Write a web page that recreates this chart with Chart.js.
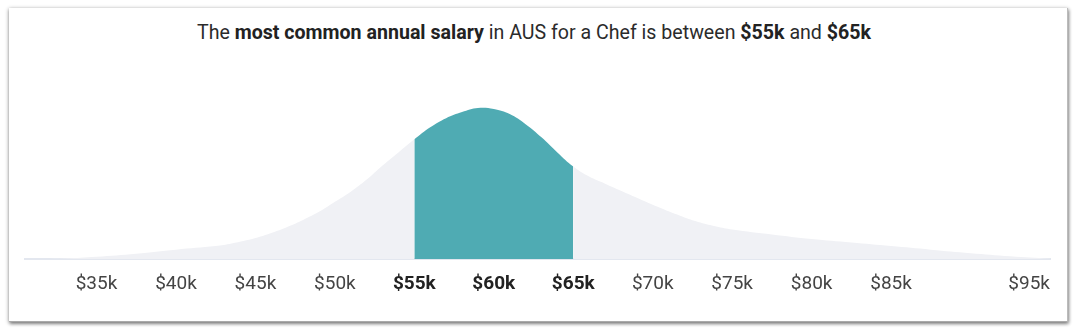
<!DOCTYPE html>
<html>
<head>
<meta charset="utf-8">
<script src="https://cdn.jsdelivr.net/npm/chart.js@4"></script>
<style>
    html, body { margin: 0; padding: 0; background: #fff; }
    body { width: 1080px; height: 331px; position: relative; overflow: hidden; font-family: Roboto, "Noto Sans", sans-serif; }
    .card {
        position: absolute; left: 9px; top: 8px; width: 1059px; height: 314px;
        background: #fff; box-sizing: border-box;
        border-right: 1px solid #bbb; border-bottom: 1px solid #aaa;
        box-shadow: 0 1px 4px rgba(0,0,0,0.45), 1px 2px 3px rgba(0,0,0,0.25);
    }
    .title {
        position: absolute; left: 0; width: 1068px; top: 21px;
        text-align: center; font-size: 19.6px; line-height: 24px; color: #2b2b2b;
    }
    .title b { font-weight: 700; color: #222; }
    #wrap { position: absolute; left: 0; top: 0; width: 1080px; height: 331px; }
</style>
</head>
<body>
<div class="card"></div>
<div class="title">The <b>most common annual salary</b> in AUS for a Chef is between <b>$55k</b> and <b>$65k</b></div>
<div id="wrap"><canvas id="chart"></canvas></div>
<script>
// salary in $k, share of people (relative height)
const salaries = [30.5, 33, 35, 37.5, 40, 42.5, 43.5, 45, 46, 47, 48, 49, 50, 51, 52, 53, 54, 55, 56, 57, 58, 59, 60, 61, 62, 63, 64, 65, 66, 67, 68, 69, 70, 71, 72, 73, 74, 75, 77.5, 80, 82.5, 85, 87.5, 90, 92.5, 95];
const shares   = [0, 0.8, 2.5, 5.5, 9.5, 13, 15.5, 21, 26, 32, 39, 47, 57, 67, 79, 93, 106, 119, 131, 140, 146, 150, 149, 144, 134, 121, 106, 92, 82, 75, 68, 61, 54, 47.5, 41.5, 36.5, 32.5, 29.5, 24.5, 20, 16.5, 13, 9.5, 6, 3, 0.5];

const tickValues = [30.5, 35, 40, 45, 50, 55, 60, 65, 70, 75, 80, 85, 95];
const tickLabels = ["", "$35k", "$40k", "$45k", "$50k", "$55k", "$60k", "$65k", "$70k", "$75k", "$80k", "$85k", "$95k"];

const rangeLow = 55;
const rangeHigh = 65;

const grey = "#f0f1f5";
const teal = "#4fabb3";

const inRange = c => c.tick && c.tick.value >= rangeLow && c.tick.value <= rangeHigh;

const ctx = document.getElementById("chart").getContext("2d");
new Chart(ctx, {
    type: "line",
    data: {
        datasets: [{
            data: salaries.map((s, i) => ({ x: s, y: shares[i] })),
            fill: "origin",
            backgroundColor: grey,
            borderWidth: 0,
            pointRadius: 0,
            tension: 0.4,
            segment: {
                backgroundColor: c => (c.p0.parsed.x >= rangeLow && c.p1.parsed.x <= rangeHigh) ? teal : grey
            }
        }]
    },
    options: {
        responsive: true,
        maintainAspectRatio: false,
        animation: false,
        layout: { padding: { top: 98, left: 25, right: 30, bottom: 29 } },
        plugins: { legend: { display: false }, tooltip: { enabled: false } },
        scales: {
            x: {
                type: "linear",
                min: 30.5,
                max: 95,
                grid: { display: false },
                border: { display: true, color: "#e3e7ef", width: 2 },
                afterBuildTicks: axis => { axis.ticks = tickValues.map(v => ({ value: v })); },
                ticks: {
                    autoSkip: false,
                    maxRotation: 0,
                    align: "inner",
                    padding: 6,
                    callback: v => tickLabels[tickValues.indexOf(v)],
                    color: c => inRange(c) ? "#222" : "#444",
                    font: c => ({
                        family: "Roboto",
                        size: 19,
                        weight: inRange(c) ? "bold" : "normal"
                    })
                }
            },
            y: {
                display: false,
                min: 0,
                max: 160
            }
        }
    }
});
</script>
</body>
</html>
